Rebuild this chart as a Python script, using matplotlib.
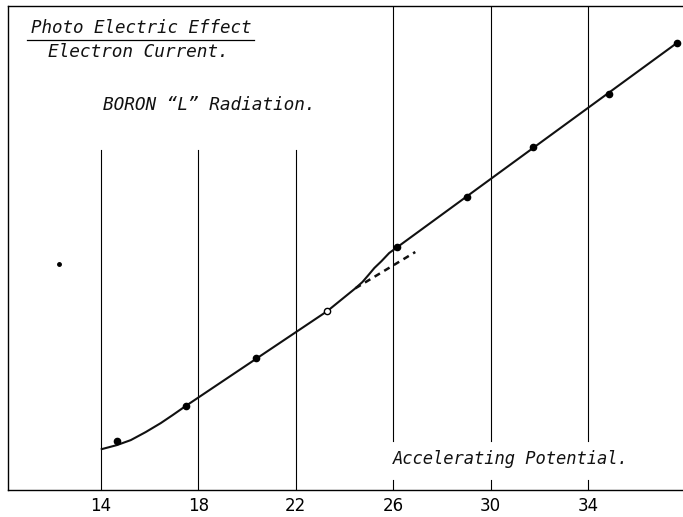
import matplotlib.pyplot as plt

# measured points (accelerating potential, electron current in arbitrary units)
pot = [14.66, 17.48, 20.39, 23.30, 26.17, 29.04, 31.75, 34.86, 37.65]
current = [10.1, 17.4, 27.3, 37.0, 50.2, 60.5, 70.9, 81.8, 92.4]
open_pt = [False, False, False, True, False, False, False, False, False]

# hand drawn curve through the points
curve_x = [14.04, 14.66, 15.23, 15.84, 16.46, 16.95, 17.48, 23.30, 24.45,
           24.74, 24.98, 25.23, 25.52, 25.84, 26.17, 37.65]
curve_y = [8.47, 9.30, 10.33, 11.98, 13.84, 15.50, 17.36, 37.0, 41.7,
           43.0, 44.4, 45.9, 47.3, 49.0, 50.2, 92.4]

# dashed extension of the lower straight line
dash_x = [24.45, 26.91]
dash_y = [41.7, 49.2]

grid_x = [14, 18, 22, 26, 30, 34]
xticks = [14, 18, 22, 26, 30, 34]

fig = plt.figure(figsize=(6.83, 5.17), dpi=100)
ax = fig.add_axes([0.012, 0.052, 0.988, 0.936])
ax.set_xlim(10.2, 37.9)
ax.set_ylim(0, 100)

# vertical guide lines
for gx in grid_x:
    if gx < 24:
        ax.plot([gx, gx], [0, 70.2], color='black', lw=0.8)
    else:
        ax.plot([gx, gx], [10.1, 100], color='black', lw=0.8)
        ax.plot([gx, gx], [0, 2.1], color='black', lw=0.8)

ax.plot(curve_x, curve_y, color='#111111', lw=1.5, solid_joinstyle='round')
ax.plot(dash_x, dash_y, color='#111111', lw=1.8, ls=(0, (2.5, 2)))

for x, y, o in zip(pot, current, open_pt):
    ax.plot(x, y, 'o', ms=4.5, mec='black', mfc='white' if o else 'black', mew=1.0)

# stray dot on the sheet
ax.plot(12.28, 46.7, 'o', ms=2.5, color='black')

tfont = dict(fontstyle='italic', family='DejaVu Sans Mono', color='#111111')
ax.text(11.13, 94.4, 'Photo Electric Effect', fontsize=12.6, va='baseline', **tfont)
ax.plot([10.99, 20.27], [93.1, 93.1], color='black', lw=0.9)
ax.text(11.85, 89.5, 'Electron Current.', fontsize=12.8, va='baseline', **tfont)
ax.text(14.08, 78.5, 'BORON “L” Radiation.', fontsize=12.8, va='baseline', **tfont)
ax.text(26.0, 5.4, 'Accelerating Potential.', fontsize=12.3, va='baseline', **tfont)

ax.set_xticks(xticks)
ax.set_xticklabels([str(t) for t in xticks], fontsize=12)
ax.tick_params(axis='x', length=0, pad=5)
ax.set_yticks([])
ax.spines['right'].set_visible(False)
for s in ['left', 'top', 'bottom']:
    ax.spines[s].set_linewidth(1.0)

fig.savefig('out.png', dpi=100)
